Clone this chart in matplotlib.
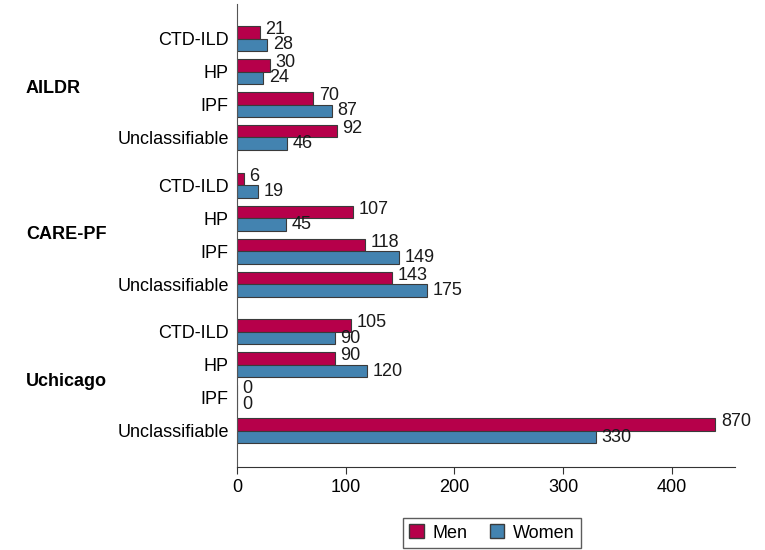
import matplotlib.pyplot as plt
import numpy as np

plt.rcParams['font.family'] = ['Liberation Sans', 'DejaVu Sans']

# data, top to bottom
cohorts = ['AILDR', 'CARE-PF', 'Uchicago']
diagnoses = ['CTD-ILD', 'HP', 'IPF', 'Unclassifiable']
men = [[21, 30, 70, 92],
       [6, 107, 118, 143],
       [105, 90, 0, 870]]
women = [[28, 24, 87, 46],
         [19, 45, 149, 175],
         [90, 120, 0, 330]]

# the axis is cut at this value, longer bars are drawn to it
bar_cap = 440

men_color = '#B6004A'
women_color = '#4383B0'
edge = '#3a3a3a'
fs = 13

fig = plt.figure(figsize=(7.65, 5.5), dpi=100)
ax = fig.add_axes([237 / 765, 1 - 467 / 550, (735 - 237) / 765, 463 / 550])

group_gap = 4.45
h = 0.38
ypos, ylabels = [], []
for g, cohort in enumerate(cohorts):
    for d, diag in enumerate(diagnoses):
        y = g * group_gap + d
        ypos.append(y)
        ylabels.append(diag)
        m = men[g][d]
        w = women[g][d]
        ax.barh(y - h / 2, min(m, bar_cap), height=h, color=men_color,
                edgecolor=edge, linewidth=0.8)
        ax.barh(y + h / 2, min(w, bar_cap), height=h, color=women_color,
                edgecolor=edge, linewidth=0.8)
        ax.annotate(str(m), (min(m, bar_cap), y - h / 2), xytext=(4, 2),
                    textcoords='offset points', va='center', ha='left',
                    fontsize=fs, color='#1a1a1a')
        ax.annotate(str(w), (min(w, bar_cap), y + h / 2), xytext=(4, 0),
                    textcoords='offset points', va='center', ha='left',
                    fontsize=fs, color='#1a1a1a')
    # cohort label on the left
    yc = g * group_gap + 1.5
    ax.text((26 - 237) / 498, yc, cohort, transform=ax.get_yaxis_transform(),
            fontsize=fs, fontweight='bold', va='center', ha='left')

ax.set_yticks(ypos)
ax.set_yticklabels(ylabels, fontsize=fs)
ax.tick_params(axis='y', length=0, pad=6)
ax.tick_params(axis='x', labelsize=fs, length=5, color='#333333')
ax.set_ylim(2 * group_gap + 3 + 1.1, -1.05)
ax.set_xlim(0, 458)
ax.set_xticks([0, 100, 200, 300, 400])

for s in ['top', 'right']:
    ax.spines[s].set_visible(False)
ax.spines['left'].set_color('#555555')
ax.spines['bottom'].set_color('#333333')

handles = [plt.Rectangle((0, 0), 1, 1, facecolor=men_color, edgecolor=edge),
           plt.Rectangle((0, 0), 1, 1, facecolor=women_color, edgecolor=edge)]
fig.legend(handles, ['Men', 'Women'], loc='center', bbox_to_anchor=(492 / 765, 1 - 533 / 550),
           ncol=2, fontsize=fs, frameon=True, fancybox=False, edgecolor='#333333',
           handlelength=0.8, handleheight=0.8, handletextpad=0.5, columnspacing=1.2,
           borderpad=0.35)

fig.savefig('out.png', dpi=100)
